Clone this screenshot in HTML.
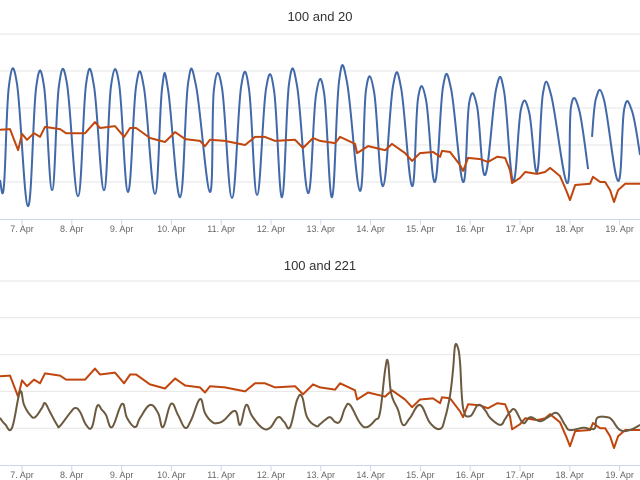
<!DOCTYPE html>
<html><head><meta charset="utf-8"><style>
html,body{margin:0;padding:0;background:#fff;}
svg{display:block;font-family:"Liberation Sans",sans-serif;}
</style></head><body>
<svg id="c" width="640" height="480"></svg>
<script>
// time in hours since 6 Apr 00:00
const tickDays = ["7. Apr","8. Apr","9. Apr","10. Apr","11. Apr","12. Apr","13. Apr","14. Apr","15. Apr","16. Apr","17. Apr","18. Apr","19. Apr"];
const gridValues = [0,10,20,30,40,50];
const blueT = [13.4,15.3,17.7,21.6,26.9,30.8,34.6,38.5,41.8,45.7,51,54.9,58.7,63.5,66.9,70.8,75.1,79,82.8,88.1,91.5,94.4,100.2,104,107.9,114.6,116.5,120.4,125.2,129.6,133.4,137.3,141.6,145.5,149.3,152.7,156.6,161.9,165.7,169.6,173.4,176.8,180.7,186.9,189.8,193.7,198,202.8,206.7,212,214.9,218.7,223,226.9,230.8,236.6,239.5,243.3,247.2,252.5,256.3,260.7,264.5,268.4,272.2,275.1,279,286.7,288.6,292.5,296.8,298.7,300.7,304.5,311.3,314.2,318,321.9];
const blueV = [10.5,8.9,35.9,36.5,3.5,35.4,35.9,7.8,35.9,36.5,6.2,36.5,35.9,7.8,35.9,36.5,7.3,35.9,35.4,6.8,35.4,34.9,5.9,36.5,35.9,7.3,34.9,35.4,5.7,35.7,35.1,6.5,35.1,34.6,5.9,36.5,35.9,7,33.5,34,5.9,37.3,36.8,7.6,34.9,34.3,8.9,35.9,35.4,8.9,32.7,32.2,10,35.7,35.1,10,31.4,30.5,11.9,35.1,34.6,10.3,29.7,28.9,12.7,34,33.5,9.7,30.3,29.5,13.5,22.2,32.7,32.2,10.3,29.7,29.2,17.3];
const blueGapAfter = 296.8;
const orangeT = [13.4,18.2,22.1,24,26.4,29.8,32.7,35.1,42.3,45.2,54.4,59.2,61.6,68.8,73.2,76.1,79,85.7,92.9,97.8,102.6,109.8,112.2,114.6,121.8,131.5,136.3,141.1,146,155.6,159.4,164.3,167.6,174.9,177.3,184.5,185.5,190.8,199,202.3,208.6,212,215.8,222.1,225.5,226.4,230.3,235.1,236.6,239,244.8,248.6,253,256.8,259.2,260.2,264,266.5,272.2,276.1,278.5,280.9,283.3,286.2,288.1,290.6,297.8,299.2,302.6,305,307.4,309.3,311.3,314.7,321.9];
const orangeV = [24.1,24.3,18.6,23,21.4,23.2,22.2,24.9,24.3,23.2,23.2,26.2,24.6,25.1,22.2,24.6,24.6,21.9,20.8,23.5,21.6,21.1,19.7,21.4,21.1,20,22.2,22.2,21.1,21.4,19.2,21.9,21.1,20.5,22.2,20.3,17.8,19.7,18.6,20.3,17.8,15.7,17.8,18.1,16.8,18.4,18.1,14.6,13,16.5,16.2,15.4,16.8,16.5,13.2,9.7,11.1,12.7,12.2,12.7,13.8,12.7,11.6,7.8,5.1,9.2,9.5,11.4,10,10,7.8,4.6,7.8,9.5,9.5];
const brownT = [13.4,15.8,19.2,23,25,27.9,30.3,33.6,35.1,37.5,40.9,42.3,47.1,49.6,52,54.9,57.7,60.2,62.6,64.5,67.4,72.2,74.6,78.5,80.9,85.7,89.6,92,95.8,99.2,102.6,105.5,109.8,112.2,115.6,118.5,121.4,126.7,129.1,132,134.9,139.7,143.5,147.4,150.3,153.2,156.6,159,161.4,165.7,167.6,170,172.5,174.9,177.3,179.7,182.1,186.9,190.3,194.2,196.6,199,200.4,201.9,205.2,207.6,211,215.8,220.7,225.5,227.9,230.3,231.7,232.7,234.1,235.1,236.6,240,243.8,247.2,249.6,254.4,256.8,259.2,261.6,265.5,268.9,273.7,277.5,281.9,285.7,288.1,294.4,297.8,300.2,301.2,306,308.4,312.2,317,321.9];
const brownV = [12.8,11.1,10.1,19.8,16.3,13.6,13,15.5,16.8,14.4,10.9,10.6,14.1,15.5,14.4,10.9,10.3,16,14.9,13.6,10.3,16.6,12.8,10.3,12.8,16.3,14.1,10.3,16.6,13.6,10.1,12.2,17.9,14.1,11.7,11.4,12.2,14.7,10.9,16.3,13.3,10.1,10.1,13,11.7,10.3,17.7,18.5,13,10.6,11.1,12.2,13,11.7,11.9,15.5,16.3,11.4,10.3,12.2,14.4,25.8,28,19.6,15,10.9,12.8,16.3,11.4,9.8,12.8,19,25.8,32.3,31.8,28,15.5,13.3,16.3,14.9,12.8,10.9,12.5,14.4,15,11.4,13,11.9,13,14.1,10.9,9.5,10.1,9.8,10.1,12.8,13,12.2,9.5,9.5,10.9];

const NS="http://www.w3.org/2000/svg";
const svg=document.getElementById('c');
function mk(tag,attrs,parent){const e=document.createElementNS(NS,tag);for(const k in attrs)e.setAttribute(k,attrs[k]);(parent||svg).appendChild(e);return e;}
const xS = h => (h-13.4)*2.075;

function splinePath(pts){
  if(pts.length===0) return '';
  let d='M'+pts[0][0].toFixed(1)+' '+pts[0][1].toFixed(1);
  for(let i=0;i<pts.length-1;i++){
    const p0=pts[Math.max(0,i-1)],p1=pts[i],p2=pts[i+1],p3=pts[Math.min(pts.length-1,i+2)];
    const k=0.2;
    const c1x=p1[0]+(p2[0]-p0[0])*k, c1y=p1[1]+(p2[1]-p0[1])*k;
    const c2x=p2[0]-(p3[0]-p1[0])*k, c2y=p2[1]-(p3[1]-p1[1])*k;
    d+=' C'+c1x.toFixed(1)+' '+c1y.toFixed(1)+' '+c2x.toFixed(1)+' '+c2y.toFixed(1)+' '+p2[0].toFixed(1)+' '+p2[1].toFixed(1);
  }
  return d;
}

function panel(cfg){
  const g=mk('g',{});
  
  
  const yS = v => cfg.base - v*cfg.step;
  gridValues.forEach(v=>{ if(v===0) return;
    const l=mk('line',{x1:0,x2:640,y1:yS(v),y2:yS(v),stroke:'#e6e6e6','stroke-width':1},g);
    
    
  });
  const ax=mk('line',{x1:0,x2:640,y1:cfg.base+0.5,y2:cfg.base+0.5,stroke:'#ccd6eb','stroke-width':1},g);
  
  
  tickDays.forEach((lab,i)=>{
    const x=xS(24+24*i);
    const t=mk('line',{x1:x,x2:x,y1:cfg.base,y2:cfg.base+6,stroke:'#ccd6eb'},g);
    
    
    const tx=mk('text',{x:x,y:cfg.base+13,'font-size':9,fill:'#666','text-anchor':'middle'},g);
    tx.textContent=lab;
    
    
  });
  const ti=mk('text',{x:320,y:cfg.titleY,'font-size':13,fill:'#333','text-anchor':'middle'},g);
  ti.textContent=cfg.title;
  
  
  cfg.series.forEach(s=>{
    let segs=[[]];
    s.t.forEach((h,i)=>{
      segs[segs.length-1].push([xS(h),yS(s.v[i])]);
      if(s.gap!==undefined && h===s.gap) segs.push([]);
    });
    let d='';
    segs.forEach(seg=>{
      if(s.smooth) d+=splinePath(seg)+' ';
      else seg.forEach((p,i)=>{d+=(i?'L':'M')+p[0].toFixed(1)+' '+p[1].toFixed(1)+' ';});
    });
    const p=mk('path',{d:d,fill:'none',stroke:s.color,'stroke-width':2,'stroke-linejoin':'round'},g);
    
    
  });
}
panel({name:'top-chart',title:'100 and 20',titleY:21,base:219,step:3.7,series:[
  {name:'series-20-line',t:blueT,v:blueV,color:'#4168a8',gap:blueGapAfter,smooth:true},
  {name:'series-100-line',t:orangeT,v:orangeV,color:'#c0460e'}]});
panel({name:'bottom-chart',title:'100 and 221',titleY:270,base:465,step:3.68,series:[
  {name:'series-100-line',t:orangeT,v:orangeV,color:'#c0460e'},
  {name:'series-221-line',t:brownT,v:brownV,color:'#6b5a3f',smooth:true}]});
</script>
</body></html>
